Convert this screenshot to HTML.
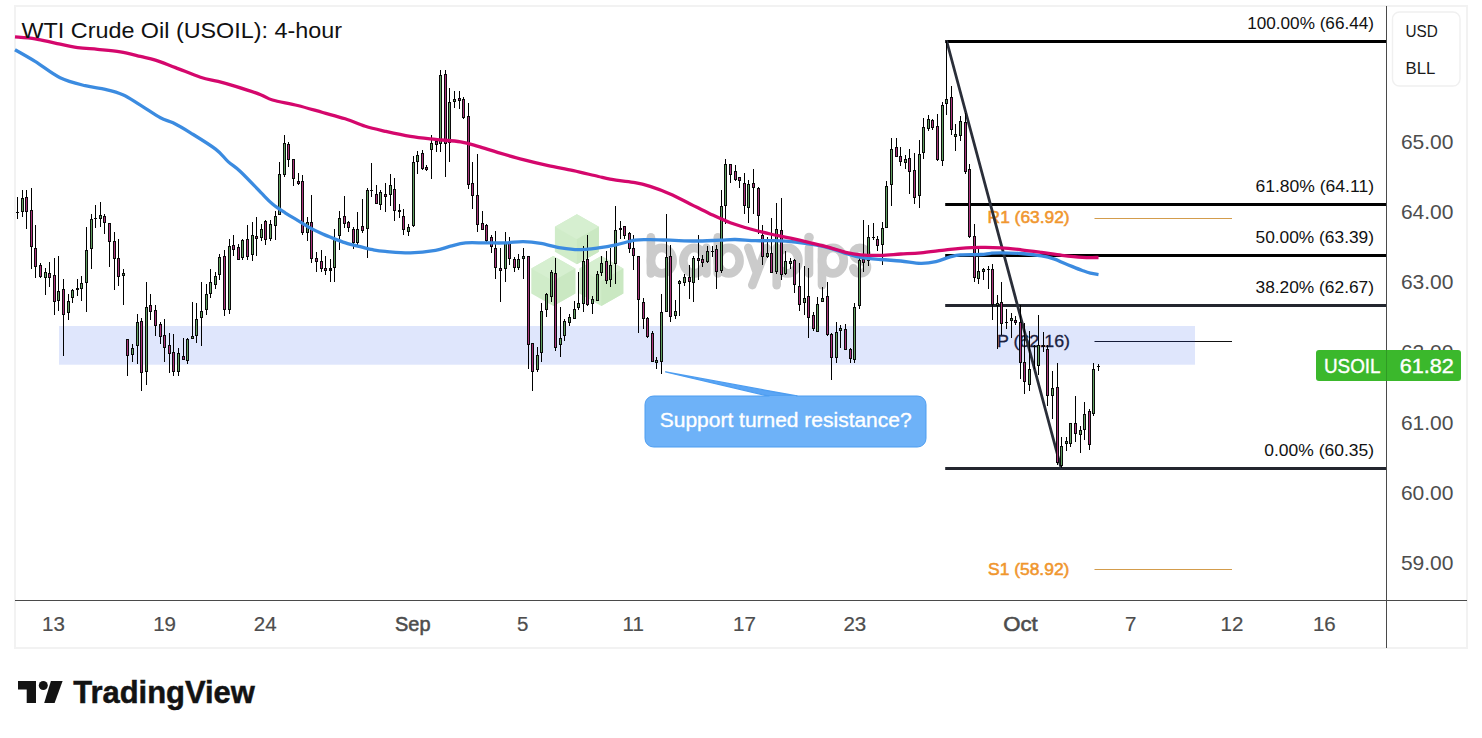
<!DOCTYPE html>
<html><head><meta charset="utf-8"><title>WTI Crude Oil (USOIL): 4-hour</title>
<style>
html,body{margin:0;padding:0;background:#fff;}
body{width:1482px;height:738px;overflow:hidden;font-family:"Liberation Sans",sans-serif;}
svg{display:block;font-family:"Liberation Sans",sans-serif;}
</style></head><body>
<svg width="1482" height="738" viewBox="0 0 1482 738">
<rect width="1482" height="738" fill="#fff"/>
<rect x="15" y="6" width="1452" height="642" fill="none" stroke="#f2f2f2" stroke-width="2"/>
<path d="M576.9,214.3L598.9,226.8V251.8L576.9,264.3L554.9,251.8V226.8z" fill="#d0ecc9"/><path d="M576.9,214.3L598.9,226.8L576.9,239.3L554.9,226.8z" fill="#d6efd0"/><path d="M576.9,239.3L598.9,226.8V251.8L576.9,264.3z" fill="#cae8c2"/>
<path d="M553.3,255.89999999999998L575.3,268.4V293.4L553.3,305.9L531.3,293.4V268.4z" fill="#d0ecc9"/><path d="M553.3,255.89999999999998L575.3,268.4L553.3,280.9L531.3,268.4z" fill="#d6efd0"/><path d="M553.3,280.9L575.3,268.4V293.4L553.3,305.9z" fill="#cae8c2"/>
<path d="M601.3,255.89999999999998L623.3,268.4V293.4L601.3,305.9L579.3,293.4V268.4z" fill="#d0ecc9"/><path d="M601.3,255.89999999999998L623.3,268.4L601.3,280.9L579.3,268.4z" fill="#d6efd0"/><path d="M601.3,280.9L623.3,268.4V293.4L601.3,305.9z" fill="#cae8c2"/>
<g fill="none" stroke="#cbcbcb" stroke-width="8.6" stroke-linecap="round" stroke-linejoin="round"><path d="M650.9,237.3V273.4"/><ellipse cx="661.8" cy="260.65" rx="10.9" ry="12.75"/><ellipse cx="694.2" cy="260.65" rx="10.9" ry="12.75"/><path d="M706.4,247.9V273.4"/><path d="M717.8,237.3V273.4"/><ellipse cx="728.7" cy="260.65" rx="10.9" ry="12.75"/><path d="M748.3,247.9L757,273M766.7,247.9L752.3,285.1"/><path d="M776.7,247.9V285.1"/><ellipse cx="787.6" cy="260.65" rx="10.9" ry="12.75"/><path d="M809,247.9V273.4"/><circle cx="809" cy="237.5" r="4.8" fill="#cbcbcb" stroke="none"/><path d="M822,247.9V285.1"/><ellipse cx="832.9" cy="260.65" rx="10.9" ry="12.75"/><path d="M866.6,253.5C865.5,249.5 862.5,247.9 859.8,247.9C856,247.9 853.6,250.3 853.6,253.6C853.6,261.5 867,258.5 867,267C867,271 864,273.4 860.2,273.4C856.5,273.4 854,271.3 853.3,268.2"/></g>
<rect x="59" y="326" width="1136" height="38.7" fill="#dfe6fc"/>
<line x1="1094.5" y1="218.5" x2="1232" y2="218.5" stroke="#d39c4c" stroke-width="1.2"/>
<line x1="1094.5" y1="341.5" x2="1195" y2="341.5" stroke="#141b38" stroke-width="1.2"/><line x1="1195" y1="341.5" x2="1232" y2="341.5" stroke="#111" stroke-width="1.2"/>
<line x1="1094.5" y1="569.5" x2="1232" y2="569.5" stroke="#d39c4c" stroke-width="1.2"/>
<text x="1069.6" y="223.4" font-size="17" fill="#f0962e" text-anchor="end" font-weight="normal" textLength="82" lengthAdjust="spacingAndGlyphs" stroke="#f0962e" stroke-width="0.55">R1 (63.92)</text>
<text x="1070" y="347" font-size="17" fill="#1a2140" text-anchor="end" font-weight="normal" textLength="73" lengthAdjust="spacingAndGlyphs" stroke="#1a2140" stroke-width="0.3">P (62.16)</text>
<text x="1069.4" y="574.6" font-size="17" fill="#f0962e" text-anchor="end" font-weight="normal" textLength="81.4" lengthAdjust="spacingAndGlyphs" stroke="#f0962e" stroke-width="0.55">S1 (58.92)</text>
<rect x="945.2" y="40.0" width="440.79999999999995" height="3" fill="#000"/><rect x="945.2" y="203.0" width="440.79999999999995" height="3" fill="#000"/><rect x="945.2" y="254.0" width="440.79999999999995" height="3" fill="#000"/><rect x="945.2" y="304.0" width="440.79999999999995" height="3" fill="#23262f"/><rect x="945.2" y="467.0" width="440.79999999999995" height="3" fill="#23262f"/><line x1="946.8" y1="41.5" x2="1061.2" y2="468.5" stroke="#2a2e39" stroke-width="2.8" stroke-linecap="round"/>
<path d="M17.5,197V219M22.5,190V217M26.5,190V229M31.5,188V269M35.5,225V278M40.5,263V278M45.5,268V295M49.5,262V287M54.5,258V315M58.5,256V311M63.5,279V356M68.5,294V320M72.5,289V303M77.5,279V296M81.5,276V301M86.5,227V312M91.5,214V269M95.5,205V228M100.5,202V227M104.5,214V234M109.5,223V267M114.5,232V290M118.5,239V286M123.5,269V305M127.5,339V376M132.5,344V362M137.5,314V364M141.5,318V391M146.5,282V385M150.5,294V320M155.5,305V336M160.5,322V344M164.5,319V362M169.5,333V373M173.5,334V376M178.5,348V376M183.5,338V360M187.5,338V364M192.5,302V339M196.5,303V343M201.5,282V346M206.5,284V315M210.5,269V298M215.5,272V289M219.5,254V280M224.5,250V316M229.5,239V314M233.5,235V256M238.5,244V260M242.5,239V260M247.5,225V260M252.5,222V261M256.5,217V256M261.5,224V241M265.5,220V245M270.5,220V241M275.5,211V240M279.5,162V215M284.5,135V177M288.5,142V167M293.5,159V186M298.5,173V185M302.5,175V235M307.5,217V241M311.5,195V263M316.5,252V272M321.5,250V272M325.5,256V275M330.5,259V282M334.5,229V282M339.5,211V250M344.5,196V228M348.5,221V232M353.5,227V249M357.5,212V246M362.5,199V233M367.5,188V258M371.5,163V197M376.5,185V204M380.5,190V210M385.5,183V212M390.5,174V206M394.5,178V221M399.5,204V218M403.5,209V235M408.5,224V236M413.5,156V227M417.5,151V174M422.5,150V170M426.5,165V171M431.5,135V179M436.5,140V152M440.5,70V152M445.5,70V177M449.5,88V162M454.5,91V108M459.5,91V109M463.5,97V119M468.5,103V189M472.5,162V209M477.5,154V232M482.5,211V230M486.5,224V244M491.5,235V253M495.5,231V279M500.5,248V302M505.5,232V282M509.5,237V265M514.5,257V272M518.5,254V270M523.5,248V279M528.5,256V369M532.5,343V391M537.5,347V372M541.5,303V362M546.5,293V317M551.5,270V302M555.5,258V351M560.5,307V357M564.5,319V341M569.5,314V326M574.5,301V319M578.5,272V310M583.5,246V312M587.5,235V306M592.5,296V314M597.5,271V301M601.5,256V276M606.5,251V284M610.5,248V287M615.5,206V284M620.5,221V239M624.5,226V239M629.5,232V253M633.5,235V270M638.5,256V333M643.5,298V329M647.5,317V338M652.5,331V362M656.5,357V369M661.5,294V374M666.5,214V312M670.5,245V322M675.5,300V319M679.5,280V316M684.5,274V286M689.5,265V299M693.5,256V302M698.5,235V280M702.5,255V267M707.5,246V263M712.5,246V257M716.5,245V289M721.5,190V273M725.5,159V224M730.5,164V183M735.5,165V181M739.5,177V188M744.5,173V214M748.5,180V223M753.5,169V214M758.5,187V234M762.5,225V265M767.5,237V258M771.5,218V273M776.5,203V274M781.5,198V280M785.5,251V275M790.5,258V269M794.5,259V293M799.5,263V311M804.5,266V315M808.5,268V338M813.5,312V331M817.5,297V332M822.5,287V302M827.5,282V336M831.5,333V380M836.5,322V363M840.5,325V348M845.5,324V350M850.5,348V363M854.5,303V363M859.5,258V309M863.5,220V272M868.5,225V266M873.5,223V240M877.5,236V251M882.5,222V265M886.5,181V228M891.5,138V206M896.5,138V157M900.5,147V166M905.5,155V169M909.5,149V194M914.5,153V204M919.5,140V208M923.5,118V159M928.5,115V131M932.5,119V130M937.5,114V161M942.5,102V166M946.5,41V115M951.5,86V135M955.5,124V151M960.5,116V141M965.5,113V174M969.5,164V238M974.5,224V282M978.5,246V284M983.5,268V280M988.5,266V289M992.5,264V320M997.5,295V349M1001.5,282V335M1006.5,309V329M1011.5,313V338M1015.5,316V325M1020.5,305V379M1024.5,323V394M1029.5,331V391M1034.5,345V369M1038.5,315V375M1043.5,332V352M1047.5,345V406M1052.5,371V419M1057.5,363V465M1061.5,437V468M1066.5,437V451M1070.5,423V447M1075.5,396V442M1080.5,426V453M1084.5,402V440M1089.5,409V450M1093.5,363V416M1098.5,364V371" stroke="#000" stroke-width="1" fill="none" shape-rendering="crispEdges"/><path d="M16.0,212h3V213h-3zM21.0,198h3V212h-3zM25.0,197h3V212h-3zM30.0,210h3V247h-3zM34.0,248h3V267h-3zM39.0,265h3V277h-3zM44.0,272h3V278h-3zM48.0,273h3V278h-3zM53.0,275h3V302h-3zM57.0,291h3V301h-3zM62.0,289h3V315h-3zM67.0,301h3V313h-3zM71.0,290h3V298h-3zM76.0,288h3V290h-3zM80.0,283h3V289h-3zM85.0,250h3V283h-3zM90.0,219h3V249h-3zM94.0,218h3V219h-3zM99.0,215h3V219h-3zM103.0,216h3V223h-3zM108.0,223h3V242h-3zM113.0,241h3V259h-3zM117.0,258h3V277h-3zM122.0,273h3V276h-3zM126.0,339h3V356h-3zM131.0,348h3V355h-3zM136.0,322h3V346h-3zM140.0,321h3V373h-3zM145.0,307h3V372h-3zM149.0,305h3V312h-3zM154.0,310h3V326h-3zM159.0,324h3V337h-3zM163.0,335h3V348h-3zM168.0,345h3V354h-3zM172.0,352h3V372h-3zM177.0,353h3V372h-3zM182.0,356h3V360h-3zM186.0,339h3V361h-3zM191.0,336h3V339h-3zM195.0,319h3V336h-3zM200.0,311h3V318h-3zM205.0,294h3V310h-3zM209.0,282h3V294h-3zM214.0,276h3V285h-3zM218.0,257h3V275h-3zM223.0,256h3V310h-3zM228.0,246h3V310h-3zM232.0,245h3V250h-3zM237.0,247h3V260h-3zM241.0,240h3V258h-3zM246.0,239h3V257h-3zM251.0,235h3V255h-3zM255.0,236h3V239h-3zM260.0,229h3V238h-3zM264.0,221h3V240h-3zM269.0,224h3V239h-3zM274.0,216h3V226h-3zM278.0,174h3V215h-3zM283.0,143h3V175h-3zM287.0,144h3V160h-3zM292.0,159h3V179h-3zM297.0,181h3V184h-3zM301.0,181h3V233h-3zM306.0,222h3V233h-3zM310.0,222h3V259h-3zM315.0,258h3V262h-3zM320.0,261h3V269h-3zM324.0,268h3V271h-3zM329.0,268h3V271h-3zM333.0,238h3V268h-3zM338.0,218h3V236h-3zM343.0,216h3V224h-3zM347.0,222h3V228h-3zM352.0,229h3V243h-3zM356.0,229h3V243h-3zM361.0,226h3V231h-3zM366.0,190h3V229h-3zM370.0,190h3V191h-3zM375.0,194h3V204h-3zM379.0,192h3V205h-3zM384.0,194h3V197h-3zM389.0,185h3V195h-3zM393.0,189h3V211h-3zM398.0,210h3V212h-3zM402.0,216h3V230h-3zM407.0,227h3V232h-3zM412.0,162h3V226h-3zM416.0,155h3V162h-3zM421.0,153h3V169h-3zM425.0,167h3V170h-3zM430.0,143h3V150h-3zM435.0,141h3V145h-3zM439.0,75h3V144h-3zM444.0,74h3V144h-3zM448.0,102h3V143h-3zM453.0,99h3V102h-3zM458.0,98h3V101h-3zM462.0,99h3V118h-3zM467.0,116h3V185h-3zM471.0,183h3V196h-3zM476.0,195h3V225h-3zM481.0,223h3V230h-3zM485.0,225h3V241h-3zM490.0,237h3V247h-3zM494.0,248h3V268h-3zM499.0,268h3V271h-3zM504.0,242h3V269h-3zM508.0,242h3V259h-3zM513.0,259h3V268h-3zM517.0,259h3V268h-3zM522.0,256h3V259h-3zM527.0,256h3V345h-3zM531.0,343h3V372h-3zM536.0,355h3V370h-3zM540.0,311h3V353h-3zM545.0,294h3V310h-3zM550.0,272h3V297h-3zM554.0,273h3V348h-3zM559.0,338h3V345h-3zM563.0,321h3V336h-3zM568.0,317h3V323h-3zM573.0,309h3V319h-3zM577.0,303h3V308h-3zM582.0,261h3V304h-3zM586.0,259h3V305h-3zM591.0,299h3V304h-3zM596.0,274h3V301h-3zM600.0,263h3V273h-3zM605.0,261h3V281h-3zM609.0,265h3V280h-3zM614.0,230h3V264h-3zM619.0,228h3V230h-3zM623.0,226h3V236h-3zM628.0,233h3V249h-3zM632.0,248h3V256h-3zM637.0,256h3V300h-3zM642.0,302h3V319h-3zM646.0,318h3V337h-3zM651.0,333h3V362h-3zM655.0,360h3V363h-3zM660.0,312h3V362h-3zM665.0,257h3V312h-3zM669.0,256h3V317h-3zM674.0,311h3V316h-3zM678.0,281h3V284h-3zM683.0,277h3V283h-3zM688.0,277h3V282h-3zM692.0,258h3V283h-3zM697.0,258h3V261h-3zM701.0,259h3V263h-3zM706.0,251h3V262h-3zM711.0,251h3V252h-3zM715.0,249h3V272h-3zM720.0,206h3V271h-3zM724.0,164h3V206h-3zM729.0,164h3V175h-3zM734.0,171h3V180h-3zM738.0,177h3V181h-3zM743.0,183h3V206h-3zM747.0,184h3V208h-3zM752.0,183h3V188h-3zM757.0,188h3V216h-3zM761.0,235h3V257h-3zM766.0,253h3V257h-3zM770.0,253h3V273h-3zM775.0,229h3V272h-3zM780.0,230h3V275h-3zM784.0,261h3V274h-3zM789.0,261h3V264h-3zM793.0,260h3V285h-3zM798.0,286h3V305h-3zM803.0,298h3V303h-3zM807.0,296h3V318h-3zM812.0,315h3V329h-3zM816.0,304h3V332h-3zM821.0,298h3V302h-3zM826.0,296h3V335h-3zM830.0,334h3V358h-3zM835.0,332h3V358h-3zM839.0,328h3V331h-3zM844.0,329h3V350h-3zM849.0,349h3V359h-3zM853.0,307h3V360h-3zM858.0,260h3V306h-3zM862.0,259h3V263h-3zM867.0,237h3V261h-3zM872.0,237h3V238h-3zM876.0,239h3V246h-3zM881.0,228h3V245h-3zM885.0,186h3V228h-3zM890.0,149h3V185h-3zM895.0,147h3V157h-3zM899.0,156h3V162h-3zM904.0,159h3V163h-3zM908.0,158h3V172h-3zM913.0,170h3V198h-3zM918.0,154h3V196h-3zM922.0,127h3V153h-3zM927.0,119h3V129h-3zM931.0,120h3V128h-3zM936.0,126h3V160h-3zM941.0,105h3V161h-3zM945.0,99h3V104h-3zM950.0,97h3V130h-3zM954.0,134h3V137h-3zM959.0,121h3V136h-3zM964.0,122h3V172h-3zM968.0,169h3V237h-3zM973.0,236h3V278h-3zM977.0,271h3V279h-3zM982.0,269h3V272h-3zM987.0,269h3V270h-3zM991.0,269h3V305h-3zM996.0,303h3V306h-3zM1000.0,302h3V324h-3zM1005.0,322h3V323h-3zM1010.0,318h3V321h-3zM1014.0,320h3V323h-3zM1019.0,322h3V363h-3zM1023.0,362h3V382h-3zM1028.0,369h3V385h-3zM1033.0,346h3V347h-3zM1037.0,345h3V366h-3zM1042.0,345h3V347h-3zM1046.0,349h3V396h-3zM1051.0,388h3V396h-3zM1056.0,387h3V463h-3zM1060.0,446h3V466h-3zM1065.0,441h3V444h-3zM1069.0,423h3V444h-3zM1074.0,423h3V434h-3zM1079.0,430h3V435h-3zM1083.0,414h3V430h-3zM1088.0,411h3V445h-3zM1092.0,369h3V414h-3zM1097.0,366h3V367h-3z" fill="#0a0a0a" shape-rendering="crispEdges"/><path d="M22.0,199h1V211h-1zM45.0,273h1V277h-1zM58.0,292h1V300h-1zM68.0,302h1V312h-1zM72.0,291h1V297h-1zM81.0,284h1V288h-1zM86.0,251h1V282h-1zM91.0,220h1V248h-1zM100.0,216h1V218h-1zM123.0,274h1V275h-1zM132.0,349h1V354h-1zM137.0,323h1V345h-1zM146.0,308h1V371h-1zM178.0,354h1V371h-1zM187.0,340h1V360h-1zM192.0,337h1V338h-1zM196.0,320h1V335h-1zM201.0,312h1V317h-1zM206.0,295h1V309h-1zM210.0,283h1V293h-1zM215.0,277h1V284h-1zM219.0,258h1V274h-1zM229.0,247h1V309h-1zM242.0,241h1V257h-1zM252.0,236h1V254h-1zM261.0,230h1V237h-1zM270.0,225h1V238h-1zM275.0,217h1V225h-1zM279.0,175h1V214h-1zM284.0,144h1V174h-1zM307.0,223h1V232h-1zM334.0,239h1V267h-1zM339.0,219h1V235h-1zM357.0,230h1V242h-1zM367.0,191h1V228h-1zM380.0,193h1V204h-1zM390.0,186h1V194h-1zM408.0,228h1V231h-1zM413.0,163h1V225h-1zM417.0,156h1V161h-1zM431.0,144h1V149h-1zM440.0,76h1V143h-1zM449.0,103h1V142h-1zM454.0,100h1V101h-1zM505.0,243h1V268h-1zM518.0,260h1V267h-1zM523.0,257h1V258h-1zM537.0,356h1V369h-1zM541.0,312h1V352h-1zM546.0,295h1V309h-1zM551.0,273h1V296h-1zM560.0,339h1V344h-1zM564.0,322h1V335h-1zM569.0,318h1V322h-1zM574.0,310h1V318h-1zM578.0,304h1V307h-1zM583.0,262h1V303h-1zM592.0,300h1V303h-1zM597.0,275h1V300h-1zM601.0,264h1V272h-1zM610.0,266h1V279h-1zM615.0,231h1V263h-1zM656.0,361h1V362h-1zM661.0,313h1V361h-1zM666.0,258h1V311h-1zM675.0,312h1V315h-1zM679.0,282h1V283h-1zM684.0,278h1V282h-1zM693.0,259h1V282h-1zM707.0,252h1V261h-1zM721.0,207h1V270h-1zM725.0,165h1V205h-1zM748.0,185h1V207h-1zM767.0,254h1V256h-1zM776.0,230h1V271h-1zM785.0,262h1V273h-1zM790.0,262h1V263h-1zM804.0,299h1V302h-1zM817.0,305h1V331h-1zM822.0,299h1V301h-1zM836.0,333h1V357h-1zM840.0,329h1V330h-1zM854.0,308h1V359h-1zM859.0,261h1V305h-1zM868.0,238h1V260h-1zM882.0,229h1V244h-1zM886.0,187h1V227h-1zM891.0,150h1V184h-1zM905.0,160h1V162h-1zM919.0,155h1V195h-1zM923.0,128h1V152h-1zM928.0,120h1V128h-1zM942.0,106h1V160h-1zM946.0,100h1V103h-1zM955.0,135h1V136h-1zM960.0,122h1V135h-1zM978.0,272h1V278h-1zM983.0,270h1V271h-1zM997.0,304h1V305h-1zM1011.0,319h1V320h-1zM1029.0,370h1V384h-1zM1038.0,346h1V365h-1zM1052.0,389h1V395h-1zM1061.0,447h1V465h-1zM1066.0,442h1V443h-1zM1070.0,424h1V443h-1zM1080.0,431h1V434h-1zM1084.0,415h1V429h-1zM1093.0,370h1V413h-1z" fill="#61a061" shape-rendering="crispEdges"/><path d="M26.0,198h1V211h-1zM31.0,211h1V246h-1zM35.0,249h1V266h-1zM40.0,266h1V276h-1zM49.0,274h1V277h-1zM54.0,276h1V301h-1zM63.0,290h1V314h-1zM104.0,217h1V222h-1zM109.0,224h1V241h-1zM114.0,242h1V258h-1zM118.0,259h1V276h-1zM127.0,340h1V355h-1zM141.0,322h1V372h-1zM150.0,306h1V311h-1zM155.0,311h1V325h-1zM160.0,325h1V336h-1zM164.0,336h1V347h-1zM169.0,346h1V353h-1zM173.0,353h1V371h-1zM183.0,357h1V359h-1zM224.0,257h1V309h-1zM233.0,246h1V249h-1zM238.0,248h1V259h-1zM247.0,240h1V256h-1zM256.0,237h1V238h-1zM265.0,222h1V239h-1zM288.0,145h1V159h-1zM293.0,160h1V178h-1zM298.0,182h1V183h-1zM302.0,182h1V232h-1zM311.0,223h1V258h-1zM316.0,259h1V261h-1zM321.0,262h1V268h-1zM325.0,269h1V270h-1zM344.0,217h1V223h-1zM348.0,223h1V227h-1zM353.0,230h1V242h-1zM362.0,227h1V230h-1zM376.0,195h1V203h-1zM385.0,195h1V196h-1zM394.0,190h1V210h-1zM403.0,217h1V229h-1zM422.0,154h1V168h-1zM426.0,168h1V169h-1zM436.0,142h1V144h-1zM445.0,75h1V143h-1zM459.0,99h1V100h-1zM463.0,100h1V117h-1zM468.0,117h1V184h-1zM472.0,184h1V195h-1zM477.0,196h1V224h-1zM482.0,224h1V229h-1zM486.0,226h1V240h-1zM491.0,238h1V246h-1zM495.0,249h1V267h-1zM500.0,269h1V270h-1zM509.0,243h1V258h-1zM514.0,260h1V267h-1zM528.0,257h1V344h-1zM532.0,344h1V371h-1zM555.0,274h1V347h-1zM587.0,260h1V304h-1zM606.0,262h1V280h-1zM624.0,227h1V235h-1zM629.0,234h1V248h-1zM633.0,249h1V255h-1zM638.0,257h1V299h-1zM643.0,303h1V318h-1zM647.0,319h1V336h-1zM652.0,334h1V361h-1zM670.0,257h1V316h-1zM689.0,278h1V281h-1zM698.0,259h1V260h-1zM702.0,260h1V262h-1zM716.0,250h1V271h-1zM730.0,165h1V174h-1zM735.0,172h1V179h-1zM739.0,178h1V180h-1zM744.0,184h1V205h-1zM753.0,184h1V187h-1zM758.0,189h1V215h-1zM762.0,236h1V256h-1zM771.0,254h1V272h-1zM781.0,231h1V274h-1zM794.0,261h1V284h-1zM799.0,287h1V304h-1zM808.0,297h1V317h-1zM813.0,316h1V328h-1zM827.0,297h1V334h-1zM831.0,335h1V357h-1zM845.0,330h1V349h-1zM850.0,350h1V358h-1zM863.0,260h1V262h-1zM877.0,240h1V245h-1zM896.0,148h1V156h-1zM900.0,157h1V161h-1zM909.0,159h1V171h-1zM914.0,171h1V197h-1zM932.0,121h1V127h-1zM937.0,127h1V159h-1zM951.0,98h1V129h-1zM965.0,123h1V171h-1zM969.0,170h1V236h-1zM974.0,237h1V277h-1zM992.0,270h1V304h-1zM1001.0,303h1V323h-1zM1015.0,321h1V322h-1zM1020.0,323h1V362h-1zM1024.0,363h1V381h-1zM1047.0,350h1V395h-1zM1057.0,388h1V462h-1zM1075.0,424h1V433h-1zM1089.0,412h1V444h-1z" fill="#aa337b" shape-rendering="crispEdges"/>
<path d="M15.0,49.8C18.4,51.7 27.6,56.8 35.1,61.4C42.6,66.0 51.8,73.7 60.1,77.7C68.5,81.8 77.7,83.8 85.2,85.7C92.7,87.7 99.0,87.9 105.3,89.4C111.6,90.9 116.9,92.1 122.8,94.7C128.7,97.3 134.1,101.4 140.4,105.2C146.7,109.0 155.0,114.9 160.4,117.8C165.8,120.7 168.0,120.3 173.0,122.8C178.0,125.3 183.4,128.4 190.5,132.8C197.6,137.2 209.3,144.3 215.6,149.1C221.9,153.9 223.9,157.8 228.1,161.6C232.3,165.4 235.2,166.6 240.6,171.7C246.0,176.8 255.4,186.9 260.7,192.3C266.0,197.7 268.4,200.6 272.5,204.0C276.6,207.4 280.9,210.1 285.1,212.8C289.3,215.5 293.4,217.8 297.6,220.3C301.8,222.8 305.9,225.6 310.1,227.9C314.3,230.2 318.5,232.2 322.7,234.1C326.9,236.0 331.0,237.5 335.2,239.1C339.4,240.7 343.5,242.3 347.7,243.6C351.9,244.9 356.1,245.7 360.3,246.7C364.5,247.7 368.6,248.9 372.8,249.7C377.0,250.5 379.0,250.9 385.3,251.4C391.6,251.9 402.0,253.1 410.4,252.9C418.8,252.7 428.8,251.5 435.5,250.4C442.2,249.3 445.5,247.4 450.5,246.2C455.5,244.9 459.8,243.4 465.6,242.9C471.5,242.4 478.9,242.9 485.6,242.9C492.3,242.9 499.4,243.1 505.7,242.9C512.0,242.7 517.4,241.5 523.2,241.6C529.1,241.7 534.5,242.3 540.8,243.4C547.1,244.5 554.5,246.9 560.8,247.9C567.1,248.9 572.1,249.7 578.4,249.7C584.7,249.7 592.1,248.7 598.4,247.9C604.7,247.1 609.9,246.2 616.0,244.9C622.1,243.6 629.3,241.1 635.0,240.2C640.7,239.3 644.2,239.7 650.1,239.7C656.0,239.7 662.6,240.0 670.1,240.2C677.6,240.4 686.8,241.0 695.2,241.0C703.6,241.0 713.6,240.4 720.3,240.2C727.0,239.9 729.4,239.4 735.3,239.5C741.1,239.6 748.7,240.5 755.4,240.7C762.1,240.9 768.7,240.5 775.4,240.7C782.1,240.9 788.8,241.3 795.5,242.0C802.2,242.7 809.6,243.8 815.5,244.8C821.4,245.9 825.6,246.9 830.6,248.3C835.6,249.7 840.6,251.8 845.6,253.3C850.6,254.8 854.9,256.3 860.7,257.3C866.6,258.3 874.0,258.9 880.7,259.5C887.4,260.1 894.1,260.4 900.8,261.0C907.5,261.6 914.9,263.2 920.8,263.3C926.6,263.4 931.0,262.7 935.9,261.6C940.8,260.5 946.1,258.0 950.2,256.9C954.3,255.8 955.2,255.3 960.3,254.9C965.4,254.5 975.6,254.8 980.7,254.5C985.8,254.2 987.4,253.6 990.8,253.3C994.2,253.0 995.9,252.8 1001.0,252.8C1006.1,252.8 1014.5,253.0 1021.3,253.5C1028.1,254.0 1036.2,255.0 1041.6,255.9C1047.0,256.8 1049.7,257.5 1053.8,258.9C1057.9,260.2 1061.2,262.1 1066.0,264.0C1070.8,265.9 1078.2,269.0 1082.3,270.5C1086.4,272.0 1087.7,272.5 1090.4,273.2C1093.1,273.9 1097.2,274.4 1098.5,274.6" fill="none" stroke="#3b8be0" stroke-width="3.3" stroke-linejoin="round"/>
<path d="M15.0,36.9C18.4,37.2 28.4,37.8 35.1,38.8C41.8,39.8 48.0,41.6 55.1,43.1C62.2,44.6 70.6,46.6 77.7,47.6C84.8,48.6 90.6,48.6 97.7,49.3C104.8,50.0 113.2,50.6 120.3,51.8C127.4,53.0 134.6,55.0 140.4,56.4C146.2,57.8 149.6,58.2 155.4,60.1C161.2,62.0 168.0,64.8 175.5,67.6C183.0,70.4 193.4,74.9 200.5,77.2C207.6,79.5 212.2,79.9 218.1,81.4C223.9,82.9 228.5,84.2 235.6,86.4C242.7,88.6 254.5,92.4 260.7,94.7C266.8,97.0 266.4,98.2 272.5,100.0C278.6,101.8 289.2,103.4 297.6,105.5C306.0,107.6 314.8,110.3 322.7,112.5C330.6,114.7 338.1,116.5 345.2,118.8C352.3,121.1 358.6,124.2 365.3,126.3C372.0,128.4 377.8,129.6 385.3,131.3C392.8,133.0 402.0,135.1 410.4,136.4C418.8,137.8 427.1,138.5 435.5,139.4C443.9,140.3 453.5,140.7 460.6,141.9C467.7,143.1 471.8,144.6 478.1,146.4C484.4,148.2 490.7,150.4 498.2,152.6C505.7,154.8 514.9,157.5 523.2,159.7C531.6,161.9 539.9,163.9 548.3,165.7C556.7,167.5 565.0,168.9 573.4,170.7C581.8,172.5 591.3,174.9 598.4,176.5C605.5,178.1 609.9,179.2 616.0,180.2C622.1,181.2 629.3,181.6 635.0,182.6C640.7,183.6 644.2,184.5 650.1,186.4C656.0,188.3 663.4,191.0 670.1,193.9C676.8,196.8 683.5,200.6 690.2,203.9C696.9,207.2 703.5,210.8 710.2,213.9C716.9,217.0 723.6,220.2 730.3,222.7C737.0,225.2 743.7,227.1 750.4,229.0C757.1,230.9 763.7,232.5 770.4,234.0C777.1,235.5 783.8,236.7 790.5,238.2C797.2,239.7 803.8,241.2 810.5,242.8C817.2,244.4 824.8,246.2 830.6,247.8C836.5,249.4 840.6,251.1 845.6,252.3C850.6,253.5 854.9,254.3 860.7,254.8C866.6,255.3 874.0,255.4 880.7,255.3C887.4,255.2 894.1,254.4 900.8,254.0C907.5,253.6 913.3,253.5 920.8,252.8C928.3,252.1 939.3,250.5 945.9,249.8C952.5,249.1 954.5,248.8 960.3,248.4C966.1,248.0 973.9,247.5 980.7,247.4C987.5,247.3 994.2,247.4 1001.0,247.8C1007.8,248.2 1014.5,249.0 1021.3,249.8C1028.1,250.6 1034.8,251.5 1041.6,252.4C1048.4,253.3 1055.2,254.5 1062.0,255.3C1068.8,256.1 1076.2,256.9 1082.3,257.3C1088.4,257.7 1095.8,257.5 1098.5,257.5" fill="none" stroke="#d4076c" stroke-width="3.3" stroke-linejoin="round"/>
<text x="1374" y="28.8" font-size="17" fill="#111" text-anchor="end" font-weight="normal" textLength="126.8" lengthAdjust="spacingAndGlyphs">100.00% (66.44)</text>
<text x="1374" y="191.8" font-size="17" fill="#111" text-anchor="end" font-weight="normal" textLength="118.5" lengthAdjust="spacingAndGlyphs">61.80% (64.11)</text>
<text x="1374" y="242.8" font-size="17" fill="#111" text-anchor="end" font-weight="normal" textLength="118.5" lengthAdjust="spacingAndGlyphs">50.00% (63.39)</text>
<text x="1374" y="292.8" font-size="17" fill="#111" text-anchor="end" font-weight="normal" textLength="118.5" lengthAdjust="spacingAndGlyphs">38.20% (62.67)</text>
<text x="1374" y="455.8" font-size="17" fill="#111" text-anchor="end" font-weight="normal" textLength="109.7" lengthAdjust="spacingAndGlyphs">0.00% (60.35)</text>
<path d="M665.6,371.9L797,396L768,396z" fill="#5aa5f5" stroke="#4d9df0" stroke-width="1.3" stroke-linejoin="round"/>
<rect x="645" y="396" width="281" height="51" rx="8.5" fill="#6eb2f8" stroke="#4d9df0" stroke-width="1"/>
<path d="M769.5,396.6L796,396.6" stroke="#6eb2f8" stroke-width="1.6"/>
<text x="659.8" y="426.6" font-size="20.2" fill="#fff" text-anchor="start" font-weight="normal" textLength="251.8" lengthAdjust="spacingAndGlyphs" stroke="#fff" stroke-width="0.35">Support turned resistance?</text>
<line x1="1386.5" y1="6" x2="1386.5" y2="647.5" stroke="#4a4a4a" stroke-width="1" shape-rendering="crispEdges"/>
<line x1="15" y1="600.5" x2="1467" y2="600.5" stroke="#4a4a4a" stroke-width="1" shape-rendering="crispEdges"/>
<text x="1400.9" y="148.8" font-size="20.6" fill="#4d4d4d" text-anchor="start" font-weight="normal" textLength="52.6" lengthAdjust="spacingAndGlyphs">65.00</text>
<text x="1400.9" y="219.0" font-size="20.6" fill="#4d4d4d" text-anchor="start" font-weight="normal" textLength="52.6" lengthAdjust="spacingAndGlyphs">64.00</text>
<text x="1400.9" y="289.2" font-size="20.6" fill="#4d4d4d" text-anchor="start" font-weight="normal" textLength="52.6" lengthAdjust="spacingAndGlyphs">63.00</text>
<text x="1400.9" y="359.3" font-size="20.6" fill="#4d4d4d" text-anchor="start" font-weight="normal" textLength="52.6" lengthAdjust="spacingAndGlyphs">62.00</text>
<text x="1400.9" y="429.5" font-size="20.6" fill="#4d4d4d" text-anchor="start" font-weight="normal" textLength="52.6" lengthAdjust="spacingAndGlyphs">61.00</text>
<text x="1400.9" y="499.7" font-size="20.6" fill="#4d4d4d" text-anchor="start" font-weight="normal" textLength="52.6" lengthAdjust="spacingAndGlyphs">60.00</text>
<text x="1400.9" y="569.9" font-size="20.6" fill="#4d4d4d" text-anchor="start" font-weight="normal" textLength="52.6" lengthAdjust="spacingAndGlyphs">59.00</text>
<text x="53.5" y="630.8" font-size="20.5" fill="#4d4d4d" text-anchor="middle" font-weight="normal" stroke="#4d4d4d" stroke-width="0.2">13</text>
<text x="164.6" y="630.8" font-size="20.5" fill="#4d4d4d" text-anchor="middle" font-weight="normal" stroke="#4d4d4d" stroke-width="0.2">19</text>
<text x="265.2" y="630.8" font-size="20.5" fill="#4d4d4d" text-anchor="middle" font-weight="normal" stroke="#4d4d4d" stroke-width="0.2">24</text>
<text x="412.8" y="630.8" font-size="20.5" fill="#4d4d4d" text-anchor="middle" font-weight="normal" textLength="35.5" lengthAdjust="spacingAndGlyphs" stroke="#4d4d4d" stroke-width="0.55">Sep</text>
<text x="522.8" y="630.8" font-size="20.5" fill="#4d4d4d" text-anchor="middle" font-weight="normal" stroke="#4d4d4d" stroke-width="0.2">5</text>
<text x="633.2" y="630.8" font-size="20.5" fill="#4d4d4d" text-anchor="middle" font-weight="normal" stroke="#4d4d4d" stroke-width="0.2">11</text>
<text x="744.5" y="630.8" font-size="20.5" fill="#4d4d4d" text-anchor="middle" font-weight="normal" stroke="#4d4d4d" stroke-width="0.2">17</text>
<text x="854.8" y="630.8" font-size="20.5" fill="#4d4d4d" text-anchor="middle" font-weight="normal" stroke="#4d4d4d" stroke-width="0.2">23</text>
<text x="1020.5" y="630.8" font-size="20.5" fill="#4d4d4d" text-anchor="middle" font-weight="normal" textLength="34.5" lengthAdjust="spacingAndGlyphs" stroke="#4d4d4d" stroke-width="0.55">Oct</text>
<text x="1130.7" y="630.8" font-size="20.5" fill="#4d4d4d" text-anchor="middle" font-weight="normal" stroke="#4d4d4d" stroke-width="0.2">7</text>
<text x="1232" y="630.8" font-size="20.5" fill="#4d4d4d" text-anchor="middle" font-weight="normal" stroke="#4d4d4d" stroke-width="0.2">12</text>
<text x="1324.3" y="630.8" font-size="20.5" fill="#4d4d4d" text-anchor="middle" font-weight="normal" stroke="#4d4d4d" stroke-width="0.2">16</text>
<text x="21.5" y="37.7" font-size="22.8" fill="#111" text-anchor="start" font-weight="normal" textLength="320.5" lengthAdjust="spacingAndGlyphs">WTI Crude Oil (USOIL): 4-hour</text>
<rect x="1392.5" y="12" width="67.5" height="74" rx="7" fill="#fff" stroke="#f0f0f0" stroke-width="1.4"/>
<text x="1405.5" y="36.6" font-size="16" fill="#1a1a1a" text-anchor="start" font-weight="normal" textLength="32.3" lengthAdjust="spacingAndGlyphs">USD</text>
<text x="1405.5" y="73.8" font-size="16.4" fill="#1a1a1a" text-anchor="start" font-weight="normal" textLength="29.8" lengthAdjust="spacingAndGlyphs">BLL</text>
<rect x="1316" y="350" width="145" height="31" rx="3" fill="#3bb82c"/>
<line x1="1386.5" y1="350" x2="1386.5" y2="381" stroke="#2f9a24" stroke-width="1" shape-rendering="crispEdges"/>
<text x="1324" y="373.4" font-size="21" fill="#fff" text-anchor="start" font-weight="normal" textLength="56.6" lengthAdjust="spacingAndGlyphs" stroke="#fff" stroke-width="0.4">USOIL</text>
<text x="1399.7" y="373.4" font-size="21" fill="#fff" text-anchor="start" font-weight="normal" textLength="54.2" lengthAdjust="spacingAndGlyphs" stroke="#fff" stroke-width="0.4">61.82</text>
<path d="M18,681h18v22h-9.3v-13.6H18z" fill="#131313"/>
<circle cx="43.3" cy="685.5" r="4.5" fill="#131313"/>
<path d="M50.9,681H62.6L54.6,703H44.2z" fill="#131313"/>
<text x="73.3" y="703" font-size="30.8" fill="#131313" text-anchor="start" font-weight="bold" textLength="181.5" lengthAdjust="spacingAndGlyphs" stroke="#131313" stroke-width="0.5">TradingView</text>
</svg>
</body></html>
